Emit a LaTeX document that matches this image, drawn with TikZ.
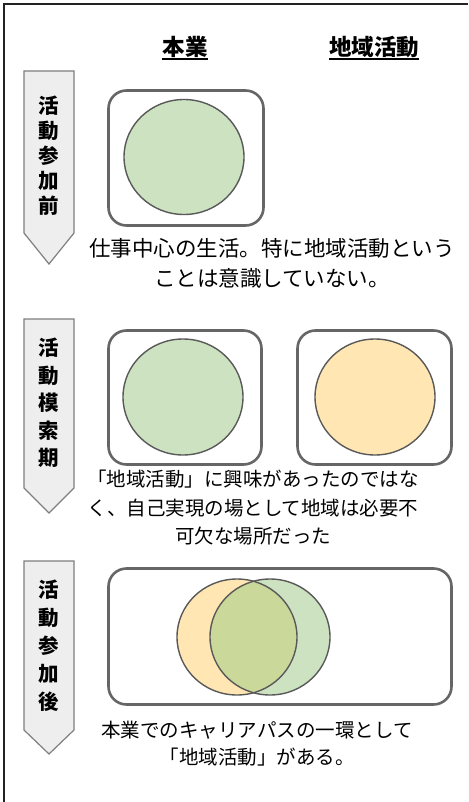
\documentclass[tikz,border=0pt]{standalone}
\usepackage{fontspec}
\setmainfont{Noto Sans CJK JP}
\usetikzlibrary{shapes.geometric}
\definecolor{framecol}{HTML}{222222}
\definecolor{boxcol}{HTML}{666666}
\definecolor{circline}{HTML}{595959}
\definecolor{arrline}{HTML}{7F7F7F}
\definecolor{arrfill}{HTML}{EEEEEE}
\definecolor{greenfill}{HTML}{CCE2C1}
\definecolor{yellowfill}{HTML}{FFE6B3}
\definecolor{overlapfill}{HTML}{CAD89A}
\tikzset{
  roundbox/.style={draw=boxcol, line width=2.6pt, rounded corners=18pt, fill=white, inner sep=0pt},
  circ/.style={ellipse, draw=circline, line width=1.4pt, inner sep=0pt, minimum width=120pt, minimum height=115pt},
  arrowshape/.style={draw=arrline, line width=1.2pt, fill=arrfill, line join=miter},
  arrowtext/.style={font=\bfseries\fontsize{20.5}{25}\selectfont, align=center, inner sep=0pt},
  heading/.style={font=\bfseries\fontsize{22.5}{24}\selectfont, inner sep=0pt},
  bodytext/.style={align=center, inner sep=0pt}
}
\begin{document}
\begin{tikzpicture}[x=1pt,y=-1pt]
\useasboundingbox (0,0) rectangle (468,802);
\fill[white] (0,0) rectangle (468,802);
% frame
\draw[framecol, line width=2pt] (4,802) -- (4,4) -- (468,4);

% headings
\node[heading] (h1) at (185,47) {本業};
\node[heading] (h2) at (374,47) {地域活動};
\draw[line width=1.4pt] ([yshift=-1pt]h1.south west) -- ([yshift=-1pt]h1.south east);
\draw[line width=1.4pt] ([yshift=-1pt]h2.south west) -- ([yshift=-1pt]h2.south east);

% arrows
\draw[arrowshape] (24,71) -- (74,71) -- (74,233) -- (49,264) -- (24,233) -- cycle;
\node[arrowtext] (a1) at (49,155.5) {活\\動\\参\\加\\前};
\draw[arrowshape] (24,319) -- (74,319) -- (74,488) -- (49,513) -- (24,488) -- cycle;
\node[arrowtext, font=\bfseries\fontsize{20.5}{27.5}\selectfont] (a2) at (49,403) {活\\動\\模\\索\\期};
\draw[arrowshape] (24,561) -- (74,561) -- (74,730) -- (49,754) -- (24,730) -- cycle;
\node[arrowtext, font=\bfseries\fontsize{20.5}{28}\selectfont] (a3) at (49,646) {活\\動\\参\\加\\後};

% section 1
\node[roundbox, minimum width=155pt, minimum height=135pt] (b1) at (186,158) {};
\node[circ, fill=greenfill] (c1) at (184,157) {};
\node[bodytext, font=\fontsize{21.5}{30}\selectfont] (t1) at (272,263) {仕事中心の生活。特に地域活動という\\ことは意識していない。};

% section 2
\node[roundbox, minimum width=153pt, minimum height=134pt] (b2a) at (185,397.5) {};
\node[roundbox, minimum width=154pt, minimum height=134pt] (b2b) at (374.5,397.5) {};
\node[circ, fill=greenfill, minimum height=116pt] (c2a) at (183,397) {};
\node[circ, fill=yellowfill, minimum height=116pt] (c2b) at (375,397) {};
\node[bodytext, font=\fontsize{19.5}{28.5}\selectfont] (t2) at (253,508) {「地域活動」に興味があったのではな\\く、自己実現の場として地域は必要不\\可欠な場所だった};

% section 3
\node[roundbox, minimum width=343pt, minimum height=136pt] (b3) at (280,636.5) {};
\node[circ, fill=yellowfill, minimum height=116pt, draw=none] (c3y) at (237,637) {};
\node[circ, fill=greenfill, minimum height=116pt, draw=none] (c3g) at (270,637) {};
\begin{scope}
  \clip (237,637) ellipse [x radius=60pt, y radius=58pt];
  \fill[overlapfill] (270,637) ellipse [x radius=60pt, y radius=58pt];
\end{scope}
\draw[circline, line width=1.4pt] (c3y.center) ellipse [x radius=60pt, y radius=58pt];
\draw[circline, line width=1.4pt] (c3g.center) ellipse [x radius=60pt, y radius=58pt];
\node[bodytext, font=\fontsize{19.5}{27}\selectfont] (t3) at (257,743.5) {本業でのキャリアパスの一環として\\「地域活動」がある。};
\end{tikzpicture}
\end{document}
